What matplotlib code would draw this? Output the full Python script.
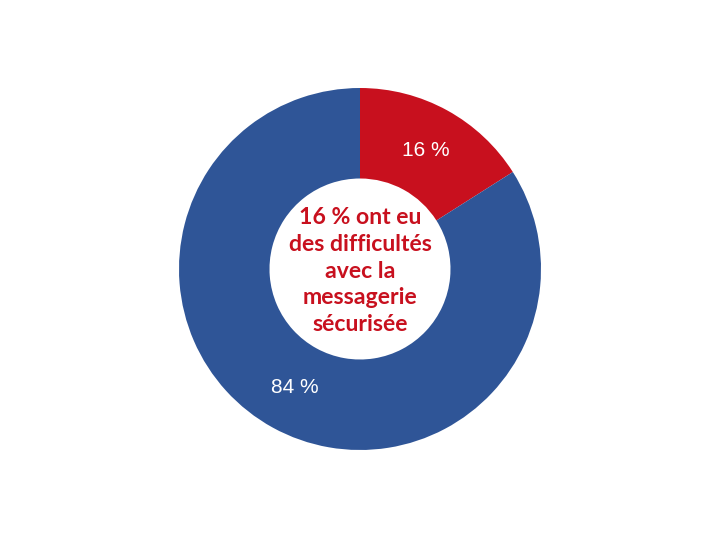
import matplotlib
matplotlib.use("Agg")
import matplotlib.pyplot as plt

labels = ["Difficultés", "Pas de difficultés"]
values = [16, 84]
colors = ["#C8101E", "#2F5597"]
center_text = "16 % ont eu\ndes difficultés\navec la\nmessagerie\nsécurisée"

fig = plt.figure(figsize=(7.2, 5.4), dpi=100)
ax = fig.add_axes([0, 0, 1, 1])

r_px = 181.0
wedges, texts, autotexts = ax.pie(
    values,
    colors=colors,
    startangle=90,
    counterclock=False,
    radius=1,
    wedgeprops=dict(width=0.5, edgecolor="none"),
    autopct=lambda p: "{:.0f} %".format(p),
    pctdistance=0.75,
    textprops=dict(color="white", fontsize=15, family=["Liberation Sans", "DejaVu Sans"]),
)

ax.text(0, -2 / r_px, center_text, ha="center", va="center", color="#C8101E",
        fontsize=16.6, fontweight="bold", family=["Lato", "DejaVu Sans"],
        linespacing=1.34)

ax.set_xlim(-360 / r_px, 360 / r_px)
ax.set_ylim(-271 / r_px, 269 / r_px)
ax.set_aspect("equal")
ax.axis("off")

fig.savefig("out.png", dpi=100)
